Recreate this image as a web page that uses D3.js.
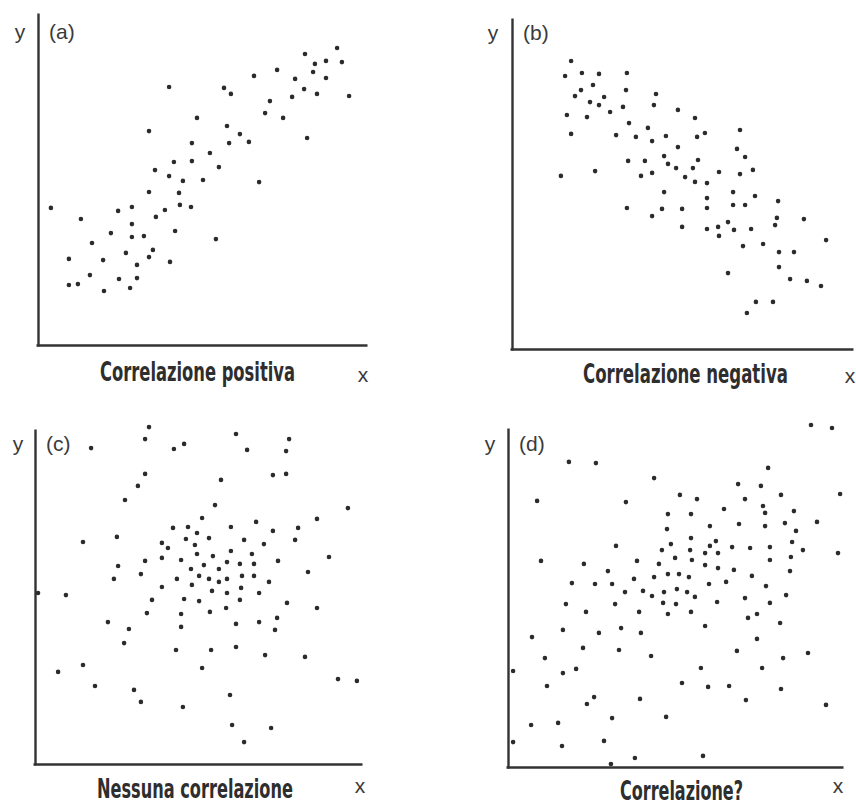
<!DOCTYPE html>
<html>
<head>
<meta charset="utf-8">
<script src="https://cdn.jsdelivr.net/npm/d3@7"></script>
<style>
  body { margin: 0; background: #fff; }
</style>
</head>
<body>
<div class="chart"></div>
<script>
// tags and captions of the four panels
const panelTags = ["(a)", "(b)", "(c)", "(d)"];
const captions = ["Correlazione positiva", "Correlazione negativa", "Nessuna correlazione", "Correlazione?"];

// points as [x, y] on a 0-110 scale
const positiva = [
  [43.7,86.0],[53.0,75.7],[37.0,71.3],[51.3,67.3],[45.3,61.0],[51.3,61.3],[39.0,58.3],[43.7,56.3],
  [48.3,54.7],[37.0,51.0],[47.0,50.7],[47.3,46.7],[51.0,46.0],[4.3,45.7],[26.7,44.7],[31.3,46.0],
  [42.3,45.0],[14.3,42.0],[39.3,42.7],[31.3,40.3],[24.3,37.3],[31.3,36.0],[35.3,36.3],[45.7,38.0],
  [18.0,34.0],[38.3,31.7],[29.3,30.7],[10.3,28.7],[21.7,28.3],[37.0,29.3],[44.0,27.7],[33.0,26.7],
  [17.3,23.3],[27.0,22.0],[33.0,22.3],[10.3,20.0],[13.3,20.3],[30.7,19.0],[22.0,18.0],
  [99.7,99.0],[89.0,97.0],[92.3,93.7],[96.0,94.7],[101.3,94.3],[91.7,91.0],[96.0,89.0],[72.0,89.7],
  [79.7,91.7],[85.7,88.7],[88.7,85.3],[93.0,83.7],[103.7,83.0],[84.7,82.7],[62.0,85.7],[64.3,83.7],
  [77.3,81.3],[75.7,77.3],[81.7,75.7],[63.0,73.0],[67.3,70.3],[63.7,67.3],[70.3,67.7],[89.7,69.0],
  [57.3,64.0],[60.3,59.3],[55.0,55.0],[73.7,54.3],[59.3,35.3]
];

const negativa = [
  [19.7,96.0],[17.7,91.0],[23.3,92.0],[29.0,91.7],[38.3,92.0],[27.0,88.0],[23.0,86.3],[21.0,84.3],
  [38.0,86.3],[48.0,85.0],[30.7,84.0],[26.0,82.3],[29.0,81.3],[37.0,80.7],[47.3,81.3],[32.7,79.0],
  [18.3,78.0],[25.0,77.3],[39.0,75.3],[45.3,73.7],[19.7,71.7],[34.7,71.3],[41.3,70.7],[46.7,69.3],
  [51.3,71.0],[50.7,64.3],[52.0,61.7],[38.7,62.7],[44.3,62.7],[46.7,58.7],[43.0,57.7],[27.7,59.3],
  [16.3,57.7],[50.7,52.3],[38.3,47.0],[50.0,46.7],[46.7,44.3],
  [55.3,79.7],[61.0,77.0],[61.7,70.7],[64.3,72.0],[76.0,73.0],[55.3,67.3],[75.0,66.7],[77.7,64.0],
  [62.0,63.0],[54.7,60.3],[60.3,60.3],[69.0,59.0],[76.0,58.3],[80.3,59.7],[57.7,57.3],[61.0,55.7],
  [65.0,55.3],[73.7,52.3],[81.0,51.0],[65.0,50.3],[88.7,49.3],[56.7,46.7],[65.0,47.0],[73.7,48.0],
  [77.7,48.0],[88.3,43.7],[97.3,43.3],[87.7,41.3],[56.7,40.7],[65.0,40.0],[68.7,40.7],[69.0,37.7],
  [72.0,42.3],[74.0,39.7],[79.7,40.0],[104.7,36.3],[77.0,34.3],[83.7,35.0],[89.0,32.3],[94.0,32.3],
  [89.0,27.3],[72.0,25.3],[92.7,23.3],[98.3,22.7],[103.0,21.0],[81.3,15.7],[87.0,15.7],[78.3,12.0]
];

const nessuna = [
  [38.0,112.3],[36.7,108.3],[18.7,105.3],[46.3,105.0],[49.7,106.7],[36.7,96.7],[34.3,92.7],[30.0,88.0],
  [46.0,78.7],[51.0,79.0],[54.0,77.0],[16.0,74.0],[27.3,75.7],[42.3,73.7],[44.3,72.0],[50.3,75.0],
  [53.3,73.0],[54.0,70.0],[42.3,68.7],[48.7,68.0],[36.7,67.7],[27.7,66.0],[52.0,65.0],[35.3,63.3],
  [26.3,61.7],[47.3,61.7],[52.3,59.7],[42.3,59.0],[1.0,57.0],[10.3,56.3],[39.0,54.7],[49.7,55.0],
  [54.7,54.3],[37.3,50.3],[48.7,50.0],[24.3,47.3],[48.7,45.7],[31.3,45.0],[29.7,40.3],[47.0,38.0],
  [16.0,33.0],[7.7,30.7],[20.0,26.0],[33.0,24.7],[35.3,20.7],[49.3,19.0],
  [67.0,110.0],[84.7,108.3],[70.7,104.7],[83.7,104.3],[79.3,96.3],[83.7,96.7],[62.0,94.7],[60.0,86.3],
  [104.3,85.3],[55.7,82.0],[94.0,81.7],[73.7,80.7],[65.3,79.0],[87.7,78.7],[79.3,77.7],[58.0,75.3],
  [69.7,74.7],[86.7,74.7],[76.3,73.3],[65.3,71.0],[59.3,69.3],[72.3,70.0],[98.0,69.0],[56.3,66.3],
  [64.0,67.3],[68.3,66.7],[73.0,66.7],[81.0,67.7],[61.3,65.0],[54.7,62.7],[58.0,61.7],[61.3,60.7],
  [64.0,61.7],[69.0,62.7],[73.0,62.7],[91.0,64.0],[78.0,60.7],[59.0,57.7],[64.0,57.0],[68.7,58.7],
  [74.7,57.0],[68.3,54.7],[84.0,53.7],[94.0,52.0],[63.7,52.0],[58.3,50.7],[80.7,48.7],[67.0,46.7],
  [74.7,47.3],[80.0,44.7],[67.0,39.0],[58.7,38.0],[76.7,36.3],[90.0,35.7],[55.7,32.0],[101.0,28.3],
  [107.3,27.7],[65.0,23.0],[65.7,13.0],[78.7,12.0],[69.7,7.3]
];

const dubbia = [
  [20.3,101.7],[29.3,101.3],[48.7,96.3],[9.7,88.7],[39.3,88.3],[53.3,84.3],[53.0,79.3],[36.0,73.7],
  [51.3,72.3],[11.0,68.7],[25.3,67.7],[43.0,68.7],[50.3,67.7],[33.3,65.3],[48.7,63.3],[53.3,64.3],
  [42.0,62.7],[21.3,61.3],[29.0,61.0],[34.7,61.0],[39.0,58.3],[45.0,58.7],[52.0,58.3],[48.0,57.0],
  [51.7,54.7],[19.3,54.3],[35.7,54.3],[26.0,51.7],[43.7,51.7],[53.3,51.0],[18.3,45.7],[37.7,46.3],
  [30.3,44.7],[44.3,44.7],[8.0,43.3],[25.0,39.7],[37.0,39.0],[47.7,37.0],[12.3,36.3],[1.7,32.0],
  [22.7,32.7],[18.3,31.3],[13.0,27.0],[28.7,23.3],[26.3,21.0],[44.0,22.7],[34.7,16.3],[52.7,16.7],
  [7.7,14.0],[16.7,14.7],[1.7,8.3],[18.0,7.0],[32.0,8.7],[42.3,3.0],[34.3,1.0],
  [101.0,114.0],[108.0,113.0],[86.7,99.7],[76.7,94.3],[84.3,93.7],[57.3,90.7],[63.0,89.3],[79.0,89.3],
  [91.0,90.7],[110.7,91.0],[85.0,87.0],[72.0,86.0],[85.7,84.7],[95.3,85.3],[61.0,84.3],[67.3,80.3],
  [77.0,81.0],[85.7,80.3],[92.3,81.3],[103.0,81.7],[96.0,78.7],[61.0,76.3],[54.3,74.3],[69.3,75.3],
  [67.3,73.7],[74.7,73.3],[80.7,73.0],[87.3,73.3],[94.7,75.0],[60.7,72.3],[70.0,71.3],[65.7,71.3],
  [98.3,72.3],[110.0,71.3],[55.7,69.7],[61.3,69.0],[94.3,70.0],[87.3,69.0],[65.7,67.3],[57.0,64.3],
  [70.0,66.3],[75.3,65.7],[60.3,63.3],[81.3,63.7],[94.0,65.3],[72.7,61.7],[67.0,61.0],[86.0,60.3],
  [56.3,59.3],[59.7,58.3],[62.3,56.7],[92.7,57.3],[56.0,54.3],[69.7,55.0],[79.0,56.3],[87.3,54.7],
  [61.0,51.7],[80.0,49.7],[83.0,51.0],[65.7,47.0],[90.7,48.0],[83.0,42.7],[76.3,38.7],[91.7,36.3],
  [100.0,38.0],[64.3,33.0],[84.7,33.0],[58.0,28.0],[66.7,26.7],[73.7,27.0],[91.0,26.0],[79.3,22.3],
  [106.0,20.7],[65.0,3.7]
];

// page geometry of each panel (origin, axis ends, text spots)
const layout = [
  {pts: positiva, left: 38,  bottom: 345, top: 13,  right: 367, tagY: 39,  yX: 20,  capX: 100, capW: 195, capY: 381, xX: 363, xY: 382},
  {pts: negativa, left: 512, bottom: 349, top: 18,  right: 853, tagY: 40,  yX: 493, capX: 583, capW: 205, capY: 383, xX: 850, xY: 383},
  {pts: nessuna,  left: 35,  bottom: 764, top: 429, right: 362, tagY: 451, yX: 18,  capX: 97,  capW: 196, capY: 798, xX: 360, xY: 793},
  {pts: dubbia,   left: 508, bottom: 767, top: 428, right: 843, tagY: 451, yX: 490, capX: 620, capW: 123, capY: 800, xX: 838, xY: 793}
];

const width = 856, height = 806;
const span = 330; // pixels for 0..110 on both axes

const svg = d3.select(".chart")
    .append("svg")
    .attr("width", width)
    .attr("height", height)
    .style("background", "#fff");

layout.forEach((p, i) => {
    const x = d3.scaleLinear().domain([0, 110]).range([p.left, p.left + span]);
    const y = d3.scaleLinear().domain([0, 110]).range([p.bottom, p.bottom - span]);

    // axis lines, slightly longer than the data span
    const xAxisScale = d3.scaleLinear().range([p.left - 2, p.right]);
    const yAxisScale = d3.scaleLinear().range([p.bottom + 1, p.top]);

    svg.append("g")
        .attr("transform", "translate(0," + p.bottom + ")")
        .call(d3.axisBottom(xAxisScale).ticks(0).tickSizeOuter(0))
        .call(g => g.select(".domain").attr("stroke", "#333").attr("stroke-width", 2.4));

    svg.append("g")
        .attr("transform", "translate(" + p.left + ",0)")
        .call(d3.axisLeft(yAxisScale).ticks(0).tickSizeOuter(0))
        .call(g => g.select(".domain").attr("stroke", "#333").attr("stroke-width", 2.4));

    svg.append("g")
        .selectAll("circle")
        .data(p.pts)
        .enter()
        .append("circle")
        .attr("cx", d => x(d[0]))
        .attr("cy", d => y(d[1]))
        .attr("r", 2.3)
        .attr("fill", "#2b2b2b");

    svg.append("text")
        .attr("x", p.yX)
        .attr("y", p.tagY)
        .attr("text-anchor", "middle")
        .attr("font-family", "'Liberation Sans', Arial, sans-serif")
        .attr("font-size", 21)
        .attr("fill", "#3a3a3a")
        .text("y");

    svg.append("text")
        .attr("x", p.left + 11)
        .attr("y", p.tagY)
        .attr("font-family", "'Liberation Sans', Arial, sans-serif")
        .attr("font-size", 21)
        .attr("fill", "#3a3a3a")
        .text(panelTags[i]);

    // condensed caption: squeeze horizontally to the width seen in the picture
    const cap = svg.append("text")
        .attr("font-family", "'DejaVu Sans Condensed', 'Liberation Sans Narrow', sans-serif")
        .style("font-stretch", "condensed")
        .attr("font-weight", "bold")
        .attr("font-size", 27)
        .attr("fill", "#2e2e2e")
        .text(captions[i]);
    const sx = p.capW / cap.node().getComputedTextLength();
    cap.attr("transform", "translate(" + p.capX + "," + p.capY + ") scale(" + sx + ",1)");

    svg.append("text")
        .attr("x", p.xX)
        .attr("y", p.xY)
        .attr("text-anchor", "middle")
        .attr("font-family", "'Liberation Sans', Arial, sans-serif")
        .attr("font-size", 21)
        .attr("fill", "#3a3a3a")
        .text("x");
});
</script>
</body>
</html>
